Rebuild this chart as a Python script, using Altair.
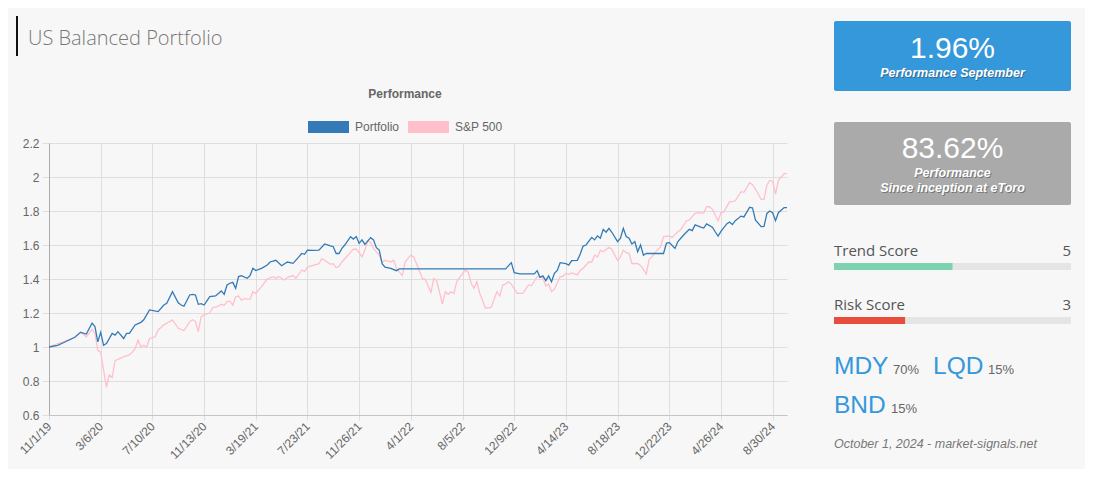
import altair as alt
import pandas as pd

# ---------------- data ----------------
tick_labels = ["11/1/19", "3/6/20", "7/10/20", "11/13/20", "3/19/21", "7/23/21", "11/26/21",
               "4/1/22", "8/5/22", "12/9/22", "4/14/23", "8/18/23", "12/22/23", "4/26/24", "8/30/24"]

port_week = [0, 3, 5, 9, 11, 13, 15, 16, 17, 18, 19, 20, 22, 23, 24, 26, 27, 28, 30, 32, 33, 35, 38, 40, 41, 43,
             45, 46, 47, 49, 50, 51, 52, 53, 54, 56, 58, 60, 61, 62, 63, 64, 65, 66, 67, 69, 70, 71, 72, 74, 76, 77,
             79, 81, 83, 85, 87, 88, 89, 90, 92, 94, 96, 98, 99, 100, 101, 102, 103, 105, 106, 107, 108, 109, 110,
             112, 113, 114, 115, 116, 117, 119, 121, 122, 159, 161, 162, 164, 169, 170, 171, 172, 173, 174, 175, 176,
             177, 178, 180, 181, 182, 184, 185, 186, 187, 189, 190, 191, 192, 193, 194, 195, 196, 198, 199, 200, 201,
             202, 203, 204, 205, 206, 207, 208, 210, 214, 215, 216, 218, 219, 221, 223, 224, 225, 227, 228, 229, 231,
             232, 233, 234, 236, 237, 238, 239, 241, 242, 244, 245, 246, 248, 249, 250, 251, 252, 253, 254, 256, 257]
port_value = [1.0, 1.01, 1.025, 1.057, 1.086, 1.076, 1.14, 1.12, 1.03, 1.086, 1.01, 1.02, 1.08, 1.07, 1.09, 1.05,
              1.08, 1.08, 1.13, 1.145, 1.16, 1.218, 1.208, 1.247, 1.257, 1.325, 1.26, 1.247, 1.24, 1.306, 1.31, 1.306,
              1.251, 1.255, 1.247, 1.296, 1.30, 1.33, 1.31, 1.365, 1.375, 1.38, 1.345, 1.414, 1.42, 1.404, 1.42,
              1.463, 1.45, 1.463, 1.482, 1.50, 1.51, 1.478, 1.50, 1.492, 1.53, 1.55, 1.545, 1.57, 1.568, 1.57, 1.606,
              1.595, 1.59, 1.55, 1.55, 1.58, 1.60, 1.649, 1.635, 1.65, 1.61, 1.63, 1.604, 1.643, 1.63, 1.584, 1.57,
              1.49, 1.47, 1.463, 1.449, 1.459, 1.459, 1.496, 1.437, 1.43, 1.43, 1.449, 1.41, 1.418, 1.39, 1.418,
              1.384, 1.433, 1.45, 1.496, 1.49, 1.482, 1.508, 1.51, 1.547, 1.594, 1.60, 1.645, 1.63, 1.653, 1.64,
              1.692, 1.675, 1.698, 1.675, 1.62, 1.64, 1.698, 1.65, 1.64, 1.606, 1.62, 1.56, 1.60, 1.54, 1.55, 1.55,
              1.55, 1.61, 1.615, 1.58, 1.62, 1.659, 1.692, 1.685, 1.718, 1.705, 1.70, 1.724, 1.705, 1.678, 1.653,
              1.68, 1.724, 1.735, 1.72, 1.743, 1.77, 1.765, 1.822, 1.818, 1.747, 1.708, 1.71, 1.786, 1.80, 1.79,
              1.743, 1.79, 1.82, 1.82]

spx_week = [0, 3, 5, 9, 11, 13, 15, 16, 17, 18, 20, 21, 22, 23, 25, 26, 28, 29, 30, 31, 32, 33, 34, 35, 37, 38, 40,
            41, 43, 45, 47, 49, 50, 51, 52, 53, 54, 56, 57, 59, 60, 61, 62, 63, 64, 65, 66, 67, 68, 70, 71, 72, 74,
            76, 78, 79, 80, 82, 83, 85, 86, 88, 89, 90, 92, 94, 95, 96, 98, 99, 100, 101, 102, 105, 106, 107, 108,
            109, 110, 111, 112, 113, 115, 116, 117, 119, 120, 121, 123, 124, 126, 127, 128, 130, 131, 133, 134, 135,
            137, 138, 139, 140, 141, 142, 143, 145, 146, 147, 148, 149, 150, 152, 154, 155, 156, 157, 158, 159, 160,
            161, 163, 165, 167, 168, 170, 171, 172, 173, 174, 175, 176, 178, 179, 180, 181, 182, 184, 185, 186, 188,
            189, 190, 191, 192, 193, 195, 196, 198, 199, 200, 201, 202, 203, 205, 206, 208, 209, 210, 211, 213, 214,
            216, 217, 219, 220, 222, 223, 225, 226, 228, 229, 230, 231, 233, 234, 235, 237, 238, 239, 241, 242, 244,
            245, 246, 248, 249, 250, 251, 252, 253, 254, 256, 257]
spx_value = [1.0, 1.02, 1.03, 1.057, 1.09, 1.06, 1.104, 1.08, 0.98, 0.97, 0.763, 0.835, 0.82, 0.92, 0.935, 0.943,
             0.953, 0.97, 0.99, 1.04, 1.0, 1.01, 1.0, 1.05, 1.06, 1.10, 1.13, 1.14, 1.159, 1.11, 1.096, 1.149, 1.16,
             1.15, 1.09, 1.178, 1.19, 1.20, 1.231, 1.24, 1.251, 1.245, 1.267, 1.27, 1.247, 1.296, 1.30, 1.276,
             1.285, 1.28, 1.325, 1.315, 1.355, 1.40, 1.414, 1.405, 1.415, 1.394, 1.41, 1.42, 1.404, 1.453, 1.445,
             1.47, 1.48, 1.49, 1.52, 1.51, 1.486, 1.49, 1.466, 1.475, 1.50, 1.557, 1.576, 1.575, 1.555, 1.53, 1.57,
             1.624, 1.615, 1.58, 1.54, 1.498, 1.51, 1.50, 1.51, 1.463, 1.42, 1.50, 1.54, 1.53, 1.49, 1.404, 1.40,
             1.32, 1.404, 1.39, 1.253, 1.325, 1.31, 1.325, 1.315, 1.384, 1.41, 1.453, 1.44, 1.375, 1.345, 1.384,
             1.316, 1.228, 1.233, 1.28, 1.325, 1.30, 1.365, 1.37, 1.384, 1.37, 1.316, 1.316, 1.365, 1.36, 1.414,
             1.414, 1.405, 1.359, 1.37, 1.325, 1.34, 1.414, 1.416, 1.433, 1.428, 1.436, 1.424, 1.45, 1.463, 1.50,
             1.50, 1.54, 1.53, 1.57, 1.56, 1.586, 1.575, 1.508, 1.53, 1.57, 1.555, 1.55, 1.49, 1.492, 1.48, 1.43,
             1.516, 1.53, 1.555, 1.59, 1.65, 1.653, 1.645, 1.678, 1.69, 1.743, 1.748, 1.786, 1.79, 1.788, 1.825,
             1.825, 1.81, 1.743, 1.79, 1.795, 1.855, 1.855, 1.86, 1.914, 1.91, 1.967, 1.955, 1.93, 1.868, 1.868,
             1.953, 1.98, 1.975, 1.90, 1.98, 2.02, 2.02]

y_ticks = [0.6, 0.8, 1.0, 1.2, 1.4, 1.6, 1.8, 2.0, 2.2]

perf_month = "1.96%"
perf_total = "83.62%"
trend_score = 5
risk_score = 3
holdings = [("MDY", "70%"), ("LQD", "15%"), ("BND", "15%")]

# ---------------- layout ----------------
OX, OY = 49, 143          # page position of plot origin
W, H = 738, 272
PAD = {"left": OX - 8, "top": OY - 8, "right": 1077 - (OX - 8) - W, "bottom": 461 - (OY - 8) - H}

one = pd.DataFrame({"a": [0]})
SANS = "Liberation Sans"


def txt(text, px, py, size, color, weight="normal", style="normal", font=SANS, align="left", opacity=1):
    return alt.Chart(one).mark_text(
        text=text, fontSize=size, color=color, fontWeight=weight, fontStyle=style, font=font,
        align=align, baseline="alphabetic", opacity=opacity
    ).encode(x=alt.value(px - OX), y=alt.value(py - OY))


def box(x1, y1, x2, y2, color, radius=0):
    return alt.Chart(one).mark_rect(color=color, cornerRadius=radius).encode(
        x=alt.value(x1 - OX), x2=alt.value(x2 - OX), y=alt.value(y1 - OY), y2=alt.value(y2 - OY))


label_expr = "[" + ",".join("'%s'" % t for t in tick_labels) + "][round(datum.value / 18)]"

x_enc = alt.X("week:Q", scale=alt.Scale(domain=[0, 257], nice=False, zero=False),
              axis=alt.Axis(values=list(range(0, 253, 18)), labelExpr=label_expr, title=None,
                            grid=True, gridColor="#dedede", tickColor="#dedede", tickSize=5,
                            domainColor="#c4c4c4", labelAngle=-45, labelAlign="right",
                            labelBaseline="middle", labelPadding=4, labelColor="#666",
                            labelFont=SANS, labelFontSize=12))
y_enc = alt.Y("value:Q", scale=alt.Scale(domain=[0.6, 2.2], nice=False, zero=False),
              axis=alt.Axis(values=y_ticks, format="~g", title=None, grid=True, gridColor="#dedede",
                            tickColor="#dedede", tickSize=7, domainColor="#aaaaaa", labelPadding=3,
                            labelColor="#666", labelFont=SANS, labelFontSize=12))

spx_df = pd.DataFrame({"week": spx_week, "value": spx_value})
port_df = pd.DataFrame({"week": port_week, "value": port_value})

spx_line = alt.Chart(spx_df).mark_line(color="#ffc0cb", strokeWidth=1.3).encode(x=x_enc, y=y_enc)
port_line = alt.Chart(port_df).mark_line(color="#337ab7", strokeWidth=1.3).encode(x=x_enc, y=y_enc)

layers = [spx_line, port_line]

# title block
layers += [box(16, 16, 18, 56, "#111111"),
           txt("US Balanced Portfolio", 28, 45, 20, "#777777", weight=300, font="Open Sans")]

# chart title and legend
layers += [txt("Performance", 405, 98, 12, "#666666", weight="bold", align="center"),
           box(308, 121, 349, 133, "#337ab7"),
           txt("Portfolio", 355, 131, 12, "#666666"),
           box(408, 121, 449, 133, "#ffc0cb"),
           txt("S&P 500", 455, 131, 12, "#666666")]

# right panel: performance boxes
layers += [box(834, 21, 1071, 91, "#3498db", 2),
           txt(perf_month, 952.5, 58, 30, "#ffffff", align="center"),
           txt("Performance September", 953.5, 78, 12.5, "#333333", "bold", "italic", align="center", opacity=0.45),
           txt("Performance September", 952.5, 77, 12.5, "#ffffff", "bold", "italic", align="center"),
           box(834, 122, 1071, 205, "#aaaaaa", 2),
           txt(perf_total, 952.5, 158, 30, "#ffffff", align="center"),
           txt("Performance", 953.5, 178, 12.5, "#333333", "bold", "italic", align="center", opacity=0.45),
           txt("Performance", 952.5, 177, 12.5, "#ffffff", "bold", "italic", align="center"),
           txt("Since inception at eToro", 953.5, 193, 12.5, "#333333", "bold", "italic", align="center", opacity=0.45),
           txt("Since inception at eToro", 952.5, 192, 12.5, "#ffffff", "bold", "italic", align="center")]

# scores
BAR_L, BAR_R = 834, 1071
layers += [txt("Trend Score", 834, 256, 15, "#555555", font="Open Sans"),
           txt(str(trend_score), 1071, 256, 15, "#555555", font="Open Sans", align="right"),
           box(BAR_L, 263, BAR_R, 270, "#e5e5e5"),
           box(BAR_L, 263, BAR_L + (BAR_R - BAR_L) * trend_score / 10, 270, "#7dd3b0"),
           txt("Risk Score", 834, 310, 15, "#555555", font="Open Sans"),
           txt(str(risk_score), 1071, 310, 15, "#555555", font="Open Sans", align="right"),
           box(BAR_L, 317, BAR_R, 324, "#e5e5e5"),
           box(BAR_L, 317, BAR_L + (BAR_R - BAR_L) * risk_score / 10, 324, "#e74c3c")]

# holdings
hold_pos = [(834, 893, 374), (933, 988, 374), (834, 891, 413)]
for (tk, pct), (xt, xp, yb) in zip(holdings, hold_pos):
    layers += [txt(tk, xt, yb, 24.5, "#3498db"), txt(pct, xp, yb, 13, "#666666")]

layers += [txt("October 1, 2024 - market-signals.net", 834, 448, 12.5, "#777777", style="italic")]

chart = alt.layer(*layers).properties(
    width=W, height=H, padding=PAD, autosize=alt.AutoSizeParams(type="none"),
    background="#f7f7f7"
).configure_view(stroke=None)

chart.save("out.html", embed_options={"renderer": "svg", "actions": False})
